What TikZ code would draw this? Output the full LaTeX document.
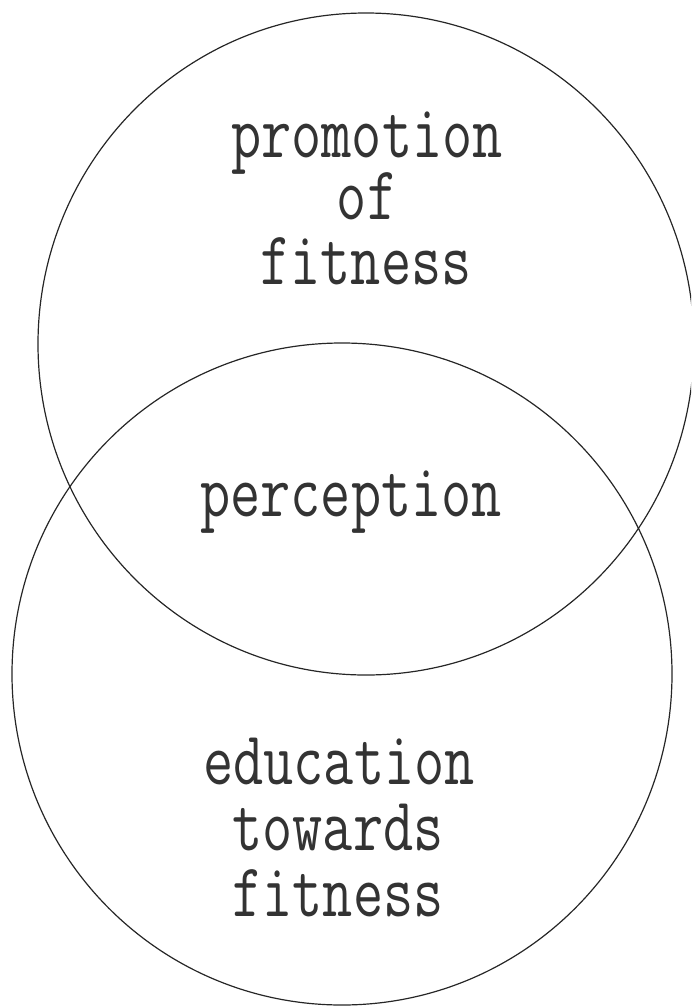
\documentclass[tikz,border=0pt]{standalone}
\usepackage{fontspec}
\usepackage{graphicx}
\newcommand{\twtext}[1]{\scalebox{0.77}[1]{#1}}
\tikzset{
  ring/.style={draw=black!85, line width=1.2pt},
  lbl/.style={anchor=base, inner sep=0pt, text height=36pt, text depth=10pt, text=black!80, font={\ttfamily\fontsize{76}{76}\selectfont}}
}
\begin{document}
\begin{tikzpicture}[x=1pt,y=-1pt]
\useasboundingbox (0,0) rectangle (691,1007);
\begin{scope}
\clip (0,0) rectangle (691,1007);
\draw[ring] (366,344) ellipse [x radius=328, y radius=331];
\draw[ring] (342,674) ellipse [x radius=330, y radius=331];
\end{scope}
\node[lbl] (p1) at (367,157) {\twtext{promotion}};
\node[lbl] (p2) at (367,219) {\twtext{of}};
\node[lbl] (p3) at (366,284) {\twtext{fitness}};
\node[lbl] (perc) at (351,516) {\twtext{perception}};
\node[lbl] (e1) at (339,784) {\twtext{education}};
\node[lbl] (e2) at (338,850) {\twtext{towards}};
\node[lbl] (e3) at (338,916) {\twtext{fitness}};
\end{tikzpicture}
\end{document}
